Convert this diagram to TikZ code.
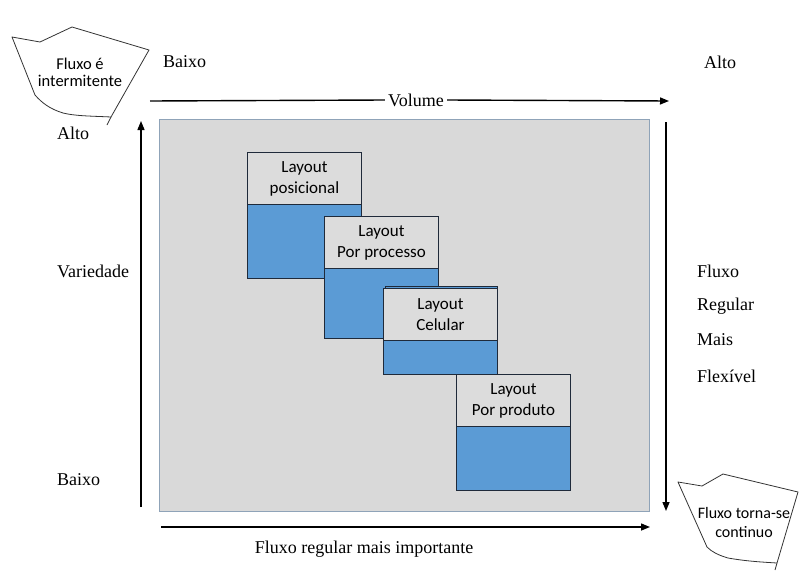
\documentclass[tikz,border=0pt]{standalone}
\usepackage{fontspec}
\setmainfont{Liberation Serif}
\newfontfamily\boxfont{Carlito}
\usetikzlibrary{arrows.meta}
\definecolor{panelgray}{HTML}{D9D9D9}
\definecolor{panelrim}{HTML}{8FA3B8}
\definecolor{layoutblue}{HTML}{5B9BD5}
\definecolor{boxrim}{HTML}{1F2A3A}
\definecolor{headgray}{HTML}{DCDCDC}
\tikzset{
  lbl/.style={font=\rmfamily\fontsize{18}{21}\selectfont, inner sep=0pt},
  axis/.style={line width=1.4pt, -{Triangle[length=9pt,width=7pt]}},
  head/.style={draw=boxrim, line width=0.9pt, fill=headgray, minimum width=114pt,
    minimum height=52pt, inner sep=0pt, anchor=north west, align=center,
    font=\boxfont\fontsize{17}{21}\selectfont},
  body/.style={draw=boxrim, line width=0.9pt, fill=layoutblue, minimum width=114pt,
    inner sep=0pt, anchor=north west},
  callout/.style={draw=black!80, line width=0.8pt, fill=white, line join=round},
  calltext/.style={align=center, inner sep=0pt}
}
\begin{document}
\begin{tikzpicture}[x=1pt,y=-1pt]
\useasboundingbox[fill=white] (0,0) rectangle (800,570);

% grey field
\node[draw=panelrim, line width=0.8pt, fill=panelgray, minimum width=490pt,
  minimum height=392pt, inner sep=0pt, anchor=north west] (panel) at (159,119) {};

% layout boxes
\node[head] (h1) at (247,152) {Layout\\posicional};
\node[body, minimum height=74pt] (b1) at (247,204) {};
\node[head] (h2) at (324,216) {Layout\\Por processo};
\node[body, minimum height=70pt] (b2) at (324,268) {};
\node[draw=boxrim, line width=0.9pt, fill=layoutblue, minimum width=112pt,
  minimum height=87pt, inner sep=0pt, anchor=north west] (b3back) at (385,286) {};
\node[head] (h3) at (383,288) {Layout\\Celular};
\node[body, minimum height=34pt] (b3) at (383,340) {};
\node[head] (h4) at (456,374) {Layout\\Por produto};
\node[body, minimum height=64pt] (b4) at (456,426) {};

% axis end points
\coordinate (vs) at (150,101);
\coordinate (ve) at (669,101);
\coordinate (us) at (141,507);
\coordinate (ue) at (141,121);
\coordinate (ds) at (666,122);
\coordinate (de) at (666,511);
\coordinate (fs) at (161,527);
\coordinate (fe) at (650,527);

% volume axis with its label breaking the line
\node[lbl, fill=white, inner xsep=3pt] (vol) at (416,100) {Volume};
\draw[line width=1.4pt] (vs) -- (vol.west);
\draw[axis] (vol.east) -- (ve);
\draw[axis] (us) -- (ue);
\draw[axis] (ds) -- (de);
\draw[axis] (fs) -- (fe);

% axis labels
\node[lbl, anchor=west] (lowv) at (163,62) {Baixo};
\node[lbl, anchor=west] (highv) at (704,62) {Alto};
\node[lbl, anchor=west] (highvar) at (57,133) {Alto};
\node[lbl, anchor=west] (var) at (57,271) {Variedade};
\node[lbl, anchor=west] (lowvar) at (57,480) {Baixo};
\node[lbl, anchor=west] (r1) at (697,271) {Fluxo};
\node[lbl, anchor=west] (r2) at (697,306) {Regular};
\node[lbl, anchor=west] (r3) at (697,340) {Mais};
\node[lbl, anchor=west] (r4) at (697,376) {Flexível};
\node[lbl] (flow) at (364,549) {Fluxo regular mais importante};

% callouts
\draw[callout] (12,37) -- (40,42) -- (72,27) -- (149,50) -- (111,117)
  .. controls (90,116) and (75,116) .. (63,113)
  .. controls (50,109) and (42,103) .. (35,95) -- cycle;
\draw[callout] (111,117) -- (107,125);
\node[calltext, font=\boxfont\fontsize{16.5}{17}\selectfont] (c1) at (80,72)
  {Fluxo é\\intermitente};
\draw[callout] (678,482) -- (702,486) -- (723,474) -- (798,492) -- (777,563)
  .. controls (760,562) and (745,561) .. (728,558)
  .. controls (718,555) and (712,552) .. (707,547) -- cycle;
\draw[callout] (777,563) -- (775,570);
\node[calltext, font=\boxfont\fontsize{16}{19}\selectfont] (c2) at (744,522)
  {Fluxo torna-se\\continuo};
\end{tikzpicture}
\end{document}
